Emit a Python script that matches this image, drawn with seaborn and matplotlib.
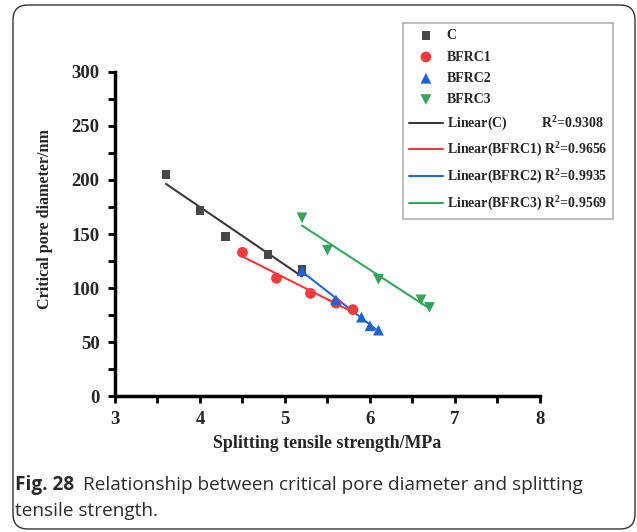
import numpy as np
import pandas as pd
import matplotlib
matplotlib.use("Agg")
import matplotlib.pyplot as plt
import seaborn as sns
from matplotlib.patches import FancyBboxPatch
from matplotlib.ticker import MultipleLocator

# Datos
x_c = [3.6, 4.0, 4.3, 4.8, 5.2]
y_c = [205, 172, 148, 131, 117]
x_b1 = [4.5, 4.9, 5.3, 5.6, 5.8]
y_b1 = [133, 109, 95, 86, 80]
x_b2 = [5.2, 5.6, 5.9, 6.0, 6.1]
y_b2 = [116, 89, 73, 65, 61]
x_b3 = [5.2, 5.5, 6.1, 6.6, 6.7]
y_b3 = [165, 135, 108, 89, 82]

names = ["C", "BFRC1", "BFRC2", "BFRC3"]
r2 = ["0.9308", "0.9656", "0.9935", "0.9569"]
xs = [x_c, x_b1, x_b2, x_b3]
ys = [y_c, y_b1, y_b2, y_b3]
markers = ["s", "o", "^", "v"]
colors = ["#474747", "#f03c3e", "#1d63d6", "#36a35c"]
line_colors = ["#3a3a3a", "#ee3a3f", "#2168d6", "#3aa55e"]
msizes = [40, 60, 60, 60]

sns.set_style("ticks")
plt.rcParams["font.family"] = ["Liberation Serif", "DejaVu Serif"]
plt.rcParams["font.weight"] = "bold"
plt.rcParams["mathtext.fontset"] = "custom"
plt.rcParams["mathtext.rm"] = "Liberation Serif:bold"
plt.rcParams["mathtext.bf"] = "Liberation Serif:bold"
plt.rcParams["mathtext.it"] = "Liberation Serif:bold"

fig = plt.figure(figsize=(6.37, 5.32), dpi=100)
ax = fig.add_axes([0.1805, 0.2556, 0.6672, 0.6091])

# --- puntos ---
for x, y, n, m, c, s in zip(xs, ys, names, markers, colors, msizes):
    df = pd.DataFrame({"x": x, "y": y})
    sns.scatterplot(data=df, x="x", y="y", marker=m, color=c, s=s,
                    edgecolor="none", label=n, ax=ax, zorder=3)

# --- ajustes lineales ---
for x, y, n, c, r in zip(xs, ys, names, line_colors, r2):
    df = pd.DataFrame({"x": x, "y": y})
    pad = " " * (10 if n == "C" else 1)
    sns.regplot(data=df, x="x", y="y", scatter=False, ci=None, truncate=True,
                color=c, line_kws={"lw": 1.5},
                label=f"Linear({n}){pad}R$^{{2}}$=" + r, ax=ax)

ax.set_xlim(3, 8)
ax.set_ylim(0, 300)
ax.xaxis.set_major_locator(MultipleLocator(1))
ax.xaxis.set_minor_locator(MultipleLocator(0.5))
ax.yaxis.set_major_locator(MultipleLocator(50))
ax.yaxis.set_minor_locator(MultipleLocator(25))
ax.tick_params(which="both", direction="out", length=5, width=2, color="black")
ax.tick_params(which="major", labelsize=13.5, pad=6)
for lab in ax.get_xticklabels() + ax.get_yticklabels():
    lab.set_fontweight("bold")
sns.despine(ax=ax)
for sp in ["left", "bottom"]:
    ax.spines[sp].set_linewidth(2.5)
    ax.spines[sp].set_color("black")

ax.set_xlabel("Splitting tensile strength/MPa", fontsize=12.9, fontweight="bold")
ax.set_ylabel("Critical pore diameter/nm", fontsize=11.6, fontweight="bold")
ax.xaxis.set_label_coords(0.5, -0.12)
ax.yaxis.set_label_coords(-0.146, 0.546)

handles, labels = ax.get_legend_handles_labels()
if ax.get_legend() is not None:
    ax.get_legend().remove()
leg = fig.legend(handles, labels, loc="upper left",
                 bbox_to_anchor=(403 / 637, 1 - 23 / 532),
                 prop={"family": "Liberation Serif", "weight": "bold", "size": 10},
                 frameon=True, fancybox=False, edgecolor="#a0a0a0",
                 handlelength=2.4, handletextpad=0.3, labelspacing=0.6,
                 borderpad=0.45, borderaxespad=0)
leg.get_frame().set_linewidth(1.2)

# --- marco redondeado y pie de figura ---
box = FancyBboxPatch((0.13, 0.03), 6.22, 5.24, boxstyle="round,pad=0,rounding_size=0.15",
                     transform=fig.dpi_scale_trans, fill=False, edgecolor="#333333",
                     linewidth=1.0)
fig.patches.append(box)

cap_kw = dict(family=["Open Sans", "DejaVu Sans"], fontsize=13.7, color="#2b2b2b")
t1 = fig.text(15 / 637, 1 - 490 / 532, "Fig. 28", fontweight="bold", va="baseline", **cap_kw)
fig.canvas.draw()
bb = t1.get_window_extent()
fig.text((bb.x1 + 9) / 637, 1 - 490 / 532,
         "Relationship between critical pore diameter and splitting",
         fontweight="normal", va="baseline", **cap_kw)
fig.text(15 / 637, 1 - 516 / 532, "tensile strength.", fontweight="normal",
         va="baseline", **cap_kw)

fig.savefig("out.png", dpi=100)
